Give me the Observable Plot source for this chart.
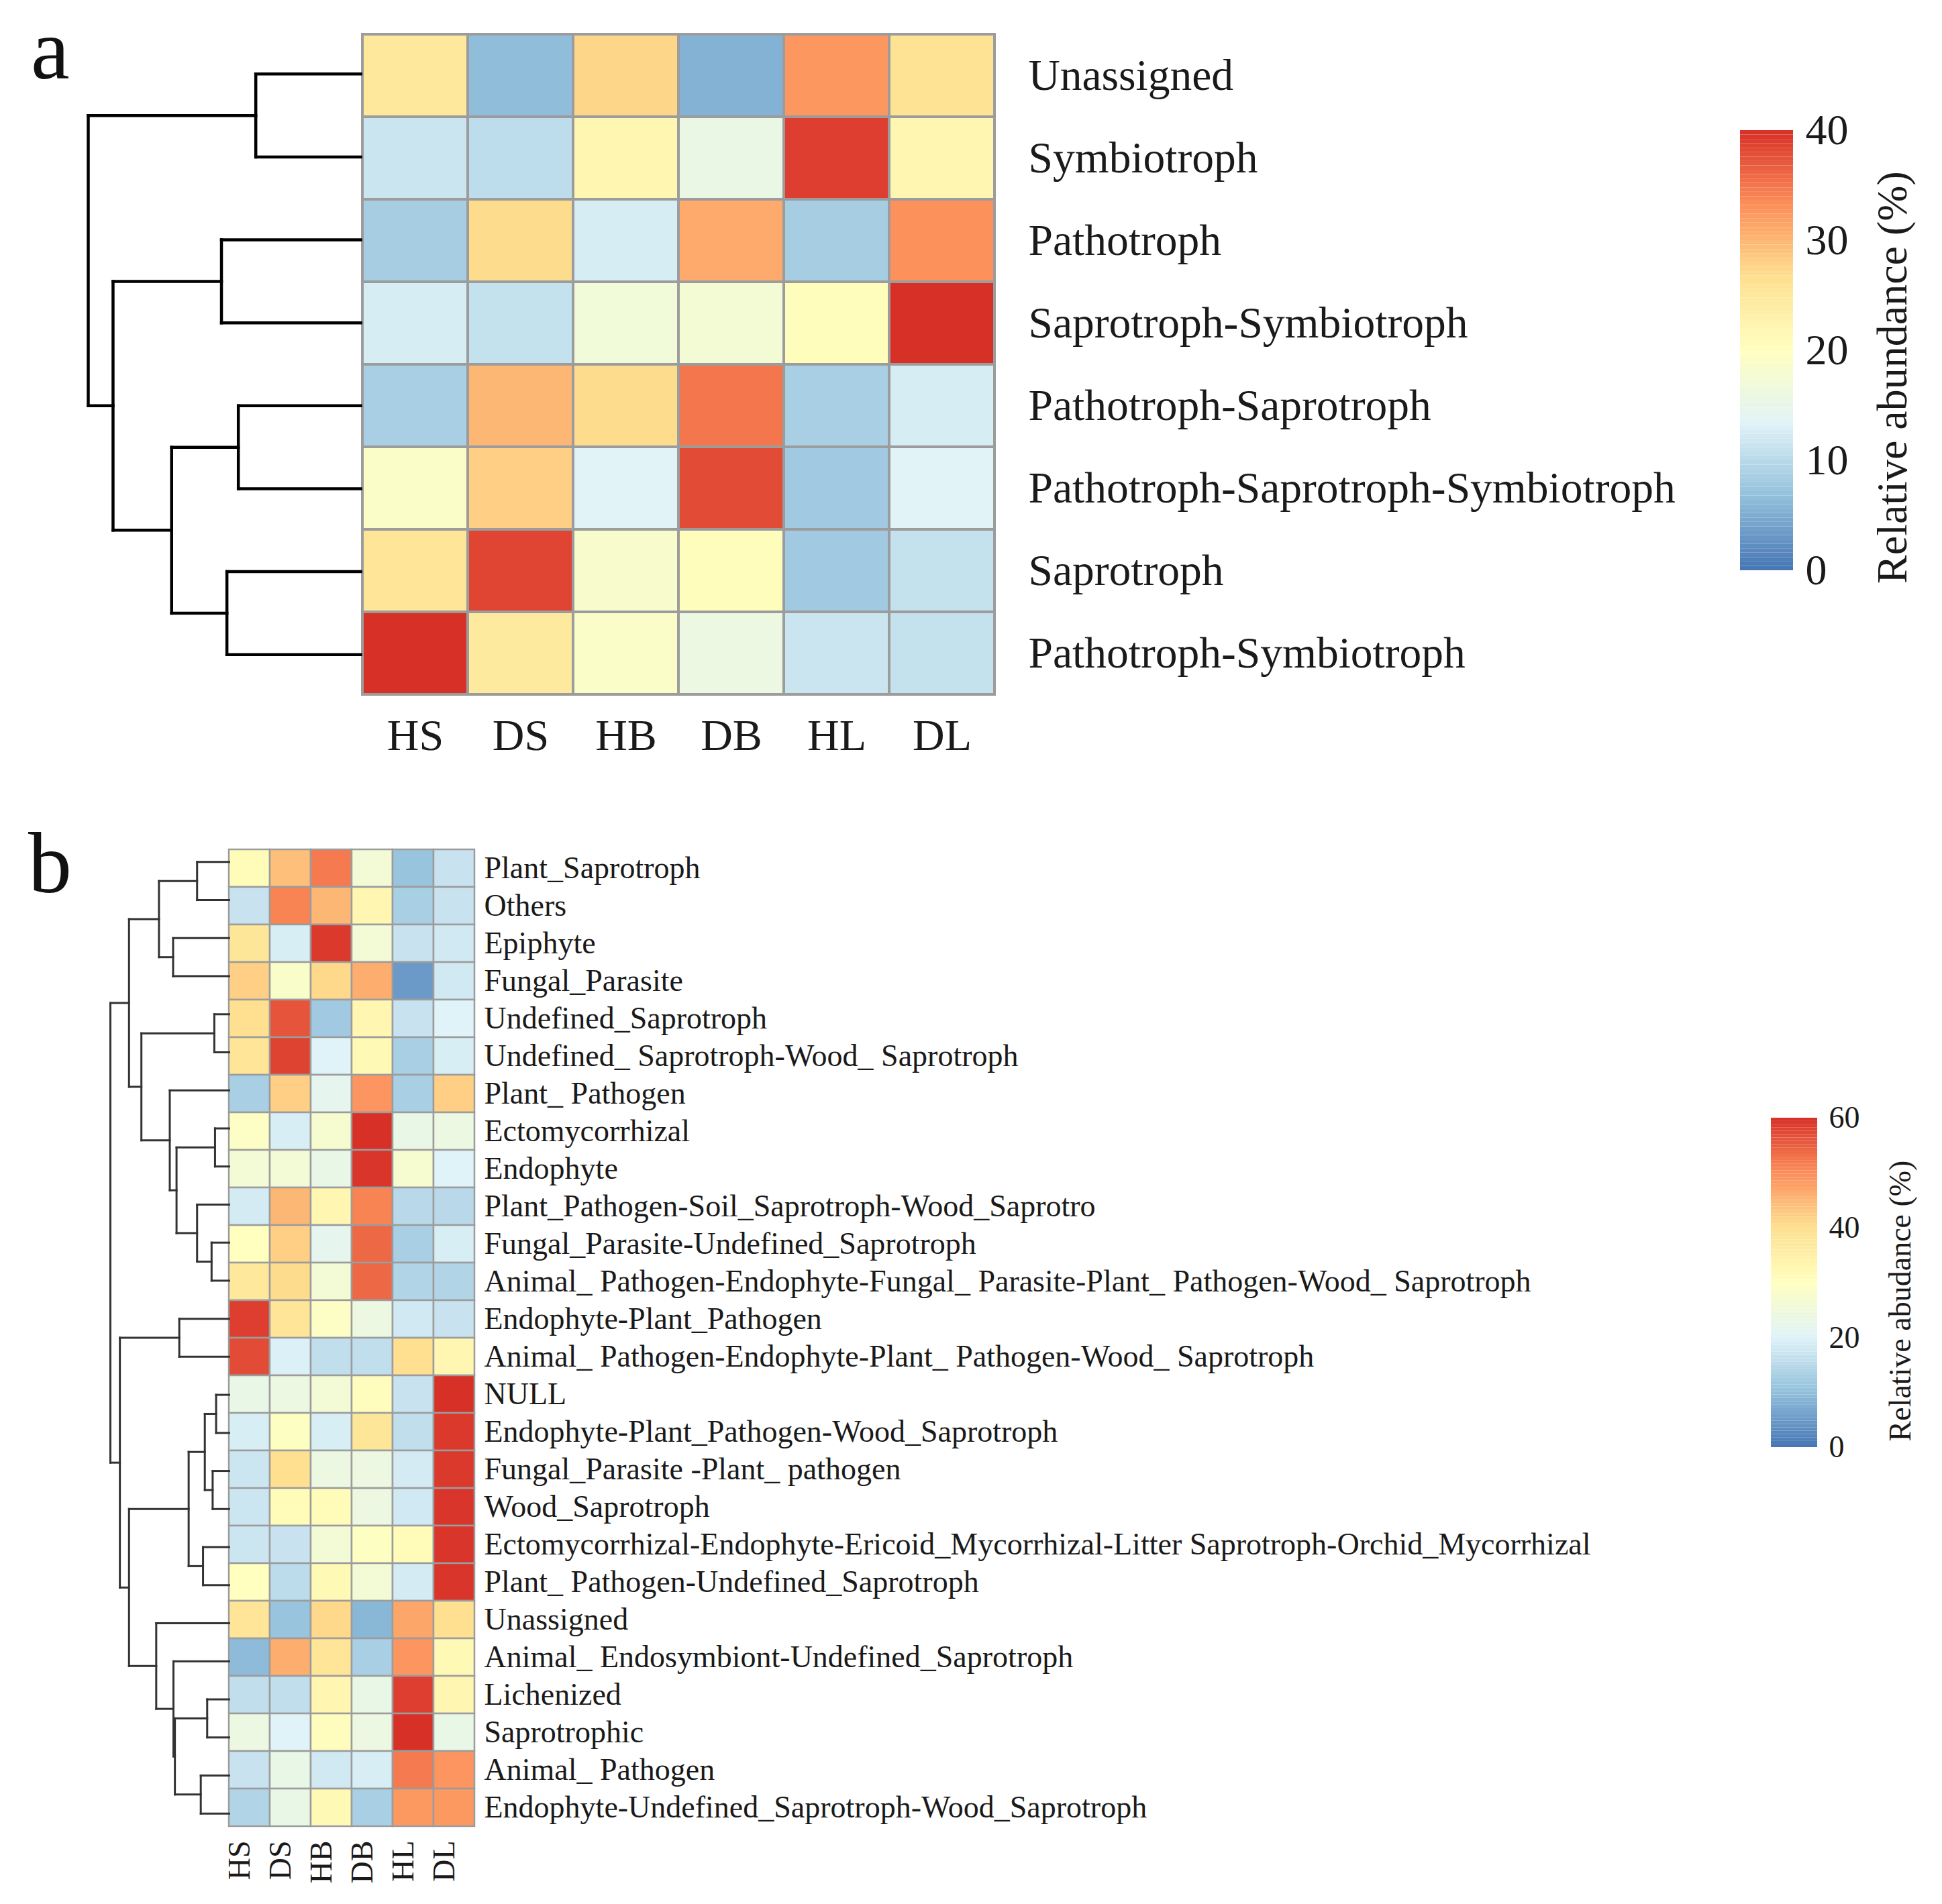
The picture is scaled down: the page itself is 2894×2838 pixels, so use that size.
<!DOCTYPE html>
<html>
<head>
<meta charset="utf-8">
<script src="https://cdn.jsdelivr.net/npm/d3@7"></script>
<script src="https://cdn.jsdelivr.net/npm/@observablehq/plot@0.6"></script>
<style>
html, body { margin: 0; padding: 0; background: #fff; }
#page { position: relative; width: 2894px; height: 2838px; overflow: hidden; background: #fff;
  font-family: "Liberation Serif", "Times New Roman", serif; color: #1a1a1a; }
#page svg { position: absolute; left: 0; top: 0; max-width: none; background: transparent;
  font-family: "Liberation Serif", "Times New Roman", serif; overflow: visible; }
.plabel { position: absolute; font-size: 130px; line-height: 130px; color: #111; }
</style>
</head>
<body>
<div id="page">
  <div class="plabel" style="left:46px; top:8px;">a</div>
  <div class="plabel" style="left:42px; top:1221px;">b</div>
</div>
<script>
const W = 2894, H = 2838;

// ---------- Panel a data ----------
const colsA = ["HS", "DS", "HB", "DB", "HL", "DL"];
const rowsA = ["Unassigned", "Symbiotroph", "Pathotroph", "Saprotroph-Symbiotroph",
  "Pathotroph-Saprotroph", "Pathotroph-Saprotroph-Symbiotroph", "Saprotroph", "Pathotroph-Symbiotroph"];
const valuesA = [
  [25.0, 6.5, 27.5, 5.5, 32.5, 26.0],
  [11.5, 10.5, 22.0, 15.5, 39.0, 22.0],
  [8.5, 27.0, 12.5, 31.0, 8.5, 33.0],
  [12.5, 11.0, 17.0, 17.5, 20.5, 40.0],
  [8.7, 30.0, 27.0, 35.0, 8.7, 12.5],
  [19.0, 28.0, 13.5, 38.0, 8.0, 13.5],
  [25.5, 38.5, 18.5, 20.5, 8.0, 11.0],
  [40.0, 24.5, 19.0, 16.0, 11.5, 11.0]
];
// hclust-style merges: negative = leaf (1-based, display order), positive = earlier merge; third = height
const mergesA = [
  [-1, -2, 0.385],
  [-3, -4, 0.511],
  [-5, -6, 0.449],
  [-7, -8, 0.491],
  [3, 4, 0.694],
  [2, 5, 0.909],
  [1, 6, 1.0]
];
const legendTicksA = [0, 10, 20, 30, 40];
const legendTitleA = "Relative abundance (%)";

// ---------- Panel b data ----------
const colsB = ["HS", "DS", "HB", "DB", "HL", "DL"];
const rowsB = [
  "Plant_Saprotroph", "Others", "Epiphyte", "Fungal_Parasite", "Undefined_Saprotroph",
  "Undefined_ Saprotroph-Wood_ Saprotroph", "Plant_ Pathogen", "Ectomycorrhizal", "Endophyte",
  "Plant_Pathogen-Soil_Saprotroph-Wood_Saprotro", "Fungal_Parasite-Undefined_Saprotroph",
  "Animal_ Pathogen-Endophyte-Fungal_ Parasite-Plant_ Pathogen-Wood_ Saprotroph",
  "Endophyte-Plant_Pathogen", "Animal_ Pathogen-Endophyte-Plant_ Pathogen-Wood_ Saprotroph",
  "NULL", "Endophyte-Plant_Pathogen-Wood_Saprotroph", "Fungal_Parasite -Plant_ pathogen",
  "Wood_Saprotroph",
  "Ectomycorrhizal-Endophyte-Ericoid_Mycorrhizal-Litter Saprotroph-Orchid_Mycorrhizal",
  "Plant_ Pathogen-Undefined_Saprotroph", "Unassigned", "Animal_ Endosymbiont-Undefined_Saprotroph",
  "Lichenized", "Saprotrophic", "Animal_ Pathogen", "Endophyte-Undefined_Saprotroph-Wood_Saprotroph"
];
const valuesB = [
  [31.0, 44.0, 52.0, 26.0, 11.0, 17.0],
  [17.0, 51.0, 45.0, 33.0, 13.0, 17.0],
  [38.0, 19.0, 59.0, 26.0, 17.0, 18.0],
  [42.0, 28.0, 41.0, 46.0, 5.0, 18.0],
  [40.0, 56.0, 12.0, 33.0, 17.0, 20.0],
  [38.5, 58.0, 20.0, 32.0, 13.0, 19.0],
  [13.0, 42.0, 22.0, 49.0, 13.0, 42.0],
  [29.0, 19.0, 27.0, 60.0, 23.0, 24.0],
  [26.0, 26.0, 23.0, 59.5, 27.0, 20.0],
  [18.5, 45.0, 33.0, 51.0, 15.0, 15.0],
  [30.0, 42.0, 22.0, 54.0, 13.0, 19.0],
  [37.5, 40.5, 26.0, 54.0, 14.0, 14.0],
  [58.5, 38.5, 29.0, 24.0, 18.0, 17.0],
  [57.0, 19.5, 16.0, 16.0, 40.0, 33.0],
  [23.0, 24.0, 26.0, 30.5, 17.0, 60.0],
  [19.0, 29.5, 19.0, 38.0, 16.0, 59.0],
  [17.5, 40.0, 24.0, 24.0, 18.5, 59.0],
  [17.5, 31.0, 31.0, 24.0, 18.0, 59.5],
  [17.5, 17.0, 26.0, 29.5, 31.0, 59.5],
  [30.0, 15.5, 32.0, 26.0, 18.5, 59.5],
  [38.5, 11.0, 41.0, 9.0, 47.0, 40.0],
  [9.5, 46.0, 38.5, 13.0, 49.0, 32.0],
  [16.0, 16.0, 33.0, 23.0, 58.5, 33.0],
  [24.0, 20.0, 30.5, 24.0, 60.0, 23.0],
  [17.0, 23.0, 18.0, 19.0, 52.0, 49.0],
  [14.0, 23.0, 32.0, 13.0, 48.5, 48.5]
];
const mergesB = [
  [-1, -2, 0.270],
  [-3, -4, 0.472],
  [1, 2, 0.591],
  [-5, -6, 0.125],
  [-8, -9, 0.119],
  [-11, -12, 0.148],
  [-10, 6, 0.270],
  [5, 7, 0.443],
  [-7, 8, 0.500],
  [4, 9, 0.739],
  [3, 10, 0.843],
  [-13, -14, 0.420],
  [-15, -16, 0.110],
  [-17, -18, 0.139],
  [13, 14, 0.205],
  [-19, -20, 0.220],
  [15, 16, 0.341],
  [-23, -24, 0.185],
  [-25, -26, 0.239],
  [18, 19, 0.457],
  [-22, 20, 0.469],
  [-21, 21, 0.614],
  [17, 22, 0.843],
  [12, 23, 0.920],
  [11, 24, 1.000]
];
const legendTicksB = [0, 20, 40, 60];
const legendTitleB = "Relative abudance (%)";

// pheatmap default palette: rev(brewer.pal(7, "RdYlBu"))
const paletteStops = ["#4575B4", "#91BFDB", "#E0F3F8", "#FFFFBF", "#FEE090", "#FC8D59", "#D73027"];

// ---------- helpers ----------
const FONT = "Liberation Serif";
const page = document.getElementById("page");

function colorScale(max) {
  return {
    type: "linear",
    domain: paletteStops.map((_, i) => i * max / (paletteStops.length - 1)),
    range: paletteStops,
    interpolate: "rgb"
  };
}

function cellsOf(rows, cols, values) {
  const out = [];
  rows.forEach((r, i) => cols.forEach((c, j) => out.push({row: r, col: c, value: values[i][j]})));
  return out;
}

function dendroSegments(merges) {
  const nodes = [];
  const segs = [];
  const get = k => k < 0 ? {h: 0, y: -k - 1} : nodes[k - 1];
  for (const [a, b, h] of merges) {
    const A = get(a), B = get(b);
    segs.push({x1: A.h, y1: A.y, x2: h, y2: A.y});
    segs.push({x1: B.h, y1: B.y, x2: h, y2: B.y});
    segs.push({x1: h, y1: A.y, x2: h, y2: B.y});
    nodes.push({h, y: (A.y + B.y) / 2});
  }
  return segs;
}

function frameMargins(f) {
  return {marginLeft: f.left, marginRight: W - f.right, marginTop: f.top, marginBottom: H - f.bottom};
}

function add(svg) { page.appendChild(svg); }

// ---------- Panel a ----------
const frameA = {left: 540, right: 1482, top: 48, bottom: 1037};
add(Plot.plot({
  width: W, height: H, ...frameMargins(frameA),
  x: {domain: colsA, padding: 0, axis: null},
  y: {domain: rowsA, padding: 0, axis: null},
  color: colorScale(40),
  marks: [
    Plot.cell(cellsOf(rowsA, colsA, valuesA), {x: "col", y: "row", fill: "value",
      stroke: "#9c9c9c", strokeWidth: 4, inset: 0}),
    Plot.text(rowsA, {y: d => d, text: d => d, frameAnchor: "right", textAnchor: "start",
      dx: 50, fontSize: 65.5, fontFamily: FONT, fill: "#1a1a1a"}),
    Plot.text(colsA, {x: d => d, text: d => d, frameAnchor: "bottom", dy: 80,
      fontSize: 66, fontFamily: FONT, fill: "#1a1a1a"})
  ]
}));

add(Plot.plot({
  width: W, height: H, ...frameMargins({left: 131, right: 537, top: frameA.top, bottom: frameA.bottom}),
  x: {domain: [1, 0], axis: null},
  y: {domain: [-0.5, rowsA.length - 0.5], reverse: true, axis: null},
  marks: [
    Plot.link(dendroSegments(mergesA), {x1: "x1", y1: "y1", x2: "x2", y2: "y2",
      stroke: "#000", strokeWidth: 4.5, strokeLinecap: "square"})
  ]
}));

const legendFrameA = {left: 2593, right: 2672, top: 194, bottom: 850};
const stepA = 0.4;
add(Plot.plot({
  width: W, height: H, ...frameMargins(legendFrameA),
  x: {domain: [0, 1], axis: null},
  y: {domain: [0, 40], axis: null},
  color: colorScale(40),
  marks: [
    Plot.rect(d3.range(0, 40, stepA), {x1: () => 0, x2: () => 1, y1: d => d, y2: d => d + stepA,
      fill: d => d + stepA / 2}),
    Plot.text(legendTicksA, {y: d => d, text: d => d, frameAnchor: "right", textAnchor: "start",
      dx: 18, fontSize: 64, fontFamily: FONT, fill: "#1a1a1a"}),
    Plot.text([legendTitleA], {text: d => d, frameAnchor: "right", textAnchor: "middle", rotate: -90,
      dx: 148, dy: 40, fontSize: 64, fontFamily: FONT, fill: "#1a1a1a"})
  ]
}));

// ---------- Panel b ----------
const frameB = {left: 341, right: 707, top: 1256, bottom: 2731};
add(Plot.plot({
  width: W, height: H, ...frameMargins(frameB),
  x: {domain: colsB, padding: 0, axis: null},
  y: {domain: rowsB, padding: 0, axis: null},
  color: colorScale(60),
  marks: [
    Plot.cell(cellsOf(rowsB, colsB, valuesB), {x: "col", y: "row", fill: "value",
      stroke: "#9c9c9c", strokeWidth: 2.5, inset: 0}),
    Plot.text(rowsB, {y: d => d, text: d => d, frameAnchor: "right", textAnchor: "start",
      dx: 14, fontSize: 46, fontFamily: FONT, fill: "#1a1a1a"}),
    Plot.text(colsB, {x: d => d, text: d => d, frameAnchor: "bottom", rotate: -90,
      textAnchor: "end", dy: 12, fontSize: 46, fontFamily: FONT, fill: "#1a1a1a"})
  ]
}));

add(Plot.plot({
  width: W, height: H, ...frameMargins({left: 164, right: 341, top: frameB.top, bottom: frameB.bottom}),
  x: {domain: [1, 0], axis: null},
  y: {domain: [-0.5, rowsB.length - 0.5], reverse: true, axis: null},
  marks: [
    Plot.link(dendroSegments(mergesB), {x1: "x1", y1: "y1", x2: "x2", y2: "y2",
      stroke: "#333", strokeWidth: 3, strokeLinecap: "square"})
  ]
}));

const legendFrameB = {left: 2639, right: 2708, top: 1666, bottom: 2157};
const stepB = 0.6;
add(Plot.plot({
  width: W, height: H, ...frameMargins(legendFrameB),
  x: {domain: [0, 1], axis: null},
  y: {domain: [0, 60], axis: null},
  color: colorScale(60),
  marks: [
    Plot.rect(d3.range(0, 60, stepB), {x1: () => 0, x2: () => 1, y1: d => d, y2: d => d + stepB,
      fill: d => d + stepB / 2}),
    Plot.text(legendTicksB, {y: d => d, text: d => d, frameAnchor: "right", textAnchor: "start",
      dx: 17, fontSize: 46, fontFamily: FONT, fill: "#1a1a1a"}),
    Plot.text([legendTitleB], {text: d => d, frameAnchor: "right", textAnchor: "middle", rotate: -90,
      dx: 124, dy: 27, fontSize: 46, fontFamily: FONT, fill: "#1a1a1a"})
  ]
}));
</script>
</body>
</html>
